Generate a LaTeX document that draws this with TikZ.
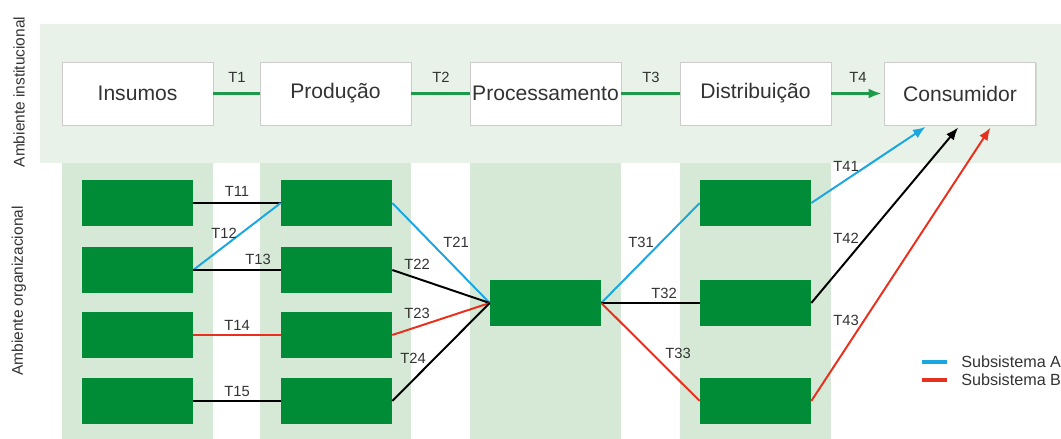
\documentclass[tikz,border=0pt]{standalone}
\usepackage{fontspec}
\setmainfont{Liberation Sans}
\usetikzlibrary{arrows.meta,shadows}
\definecolor{fundo}{HTML}{E8F2E8}
\definecolor{coluna}{HTML}{D6E9D6}
\definecolor{verde}{HTML}{008C36}
\definecolor{linhaverde}{HTML}{1E9B48}
\definecolor{azul}{HTML}{1AA7E1}
\definecolor{vermelho}{HTML}{E8301E}
\definecolor{texto}{HTML}{333333}
\tikzset{
etapa/.style={draw=gray!40,fill=white,minimum width=3.775cm,minimum height=1.575cm,inner sep=0pt,
  text=texto,font=\fontsize{15}{17}\selectfont,drop shadow={opacity=0.2,shadow xshift=0.7pt,shadow yshift=-0.7pt}},
agente/.style={fill=verde,minimum width=2.775cm,minimum height=1.125cm,inner sep=0pt},
rotulo/.style={text=texto,font=\fontsize{10.5}{12}\selectfont,inner sep=0pt},
legenda/.style={text=texto,font=\fontsize{11.5}{13}\selectfont,inner sep=0pt,anchor=west},
lado/.style={text=texto,font=\fontsize{11}{13}\selectfont,rotate=90,inner sep=0pt},
tverde/.style={draw=linhaverde,line width=1.5pt},
tpreto/.style={draw=black,line width=1.4pt},
tazul/.style={draw=azul,line width=1.4pt},
tverm/.style={draw=vermelho,line width=1.4pt},
seta/.style={-{Latex[length=9pt,width=7pt]},shorten >=2pt}
}
\begin{document}
\begin{tikzpicture}[x=0.025cm,y=-0.025cm]
\useasboundingbox (0,0) rectangle (1061,439);
% fundos
\fill[fundo] (40,24) rectangle (1061,163);
\foreach \x in {62,260,470,680} \fill[coluna] (\x,163) rectangle (\x+151,439);
\node[lado] (ainst) at (19,92) {Ambiente institucional};
\node[lado] (aorg) at (19,291) {Ambiente organizacional};
% ambiente institucional
\node[etapa] (ins) at (137.5,93.5) {Insumos};
\node[etapa] (prod) at (335.5,93.5) {Produção};
\node[etapa] (proc) at (545.5,93.5) {Processamento};
\node[etapa] (dist) at (755.5,93.5) {Distribuição};
\node[etapa] (cons) at (960,93.5) {Consumidor};
\draw[tverde] (ins) -- (prod);
\draw[tverde] (prod) -- (proc);
\draw[tverde] (proc) -- (dist);
\draw[tverde,seta] (dist) -- (cons);
\node[rotulo] (t1) at (237,77) {T1};
\node[rotulo] (t2) at (441,77) {T2};
\node[rotulo] (t3) at (651,77) {T3};
\node[rotulo] (t4) at (858,77) {T4};
% ambiente organizacional
\foreach \y [count=\i] in {203,270,335,401}{
  \node[agente] (a\i) at (137.5,\y) {};
  \node[agente] (b\i) at (336.5,\y) {};
}
\node[agente] (c) at (545.5,303) {};
\node[agente] (d1) at (755.5,203) {};
\node[agente] (d2) at (755.5,303) {};
\node[agente] (d3) at (755.5,401) {};
\draw[tpreto] (a1.east) -- (b1.west);
\draw[tazul] (a2.east) -- (b1.west);
\draw[tpreto] (a2.east) -- (b2.west);
\draw[tverm] (a3.east) -- (b3.west);
\draw[tpreto] (a4.east) -- (b4.west);
\draw[tazul] (b1.east) -- (c.west);
\draw[tpreto] (b2.east) -- (c.west);
\draw[tverm] (b3.east) -- (c.west);
\draw[tpreto] (b4.east) -- (c.west);
\draw[tazul] (c.east) -- (d1.west);
\draw[tpreto] (c.east) -- (d2.west);
\draw[tverm] (c.east) -- (d3.west);
\draw[tazul,seta] (d1.east) -- ([xshift=-0.8cm]cons.south);
\draw[tpreto,seta] (d2.east) -- (cons.south);
\draw[tverm,seta] (d3.east) -- ([xshift=0.8cm]cons.south);
\node[rotulo] (t11) at (237,191) {T11};
\node[rotulo] (t12) at (224,233) {T12};
\node[rotulo] (t13) at (258,259) {T13};
\node[rotulo] (t14) at (237,325) {T14};
\node[rotulo] (t15) at (237,391) {T15};
\node[rotulo] (t21) at (456,242) {T21};
\node[rotulo] (t22) at (417,264) {T22};
\node[rotulo] (t23) at (417,313) {T23};
\node[rotulo] (t24) at (413,358) {T24};
\node[rotulo] (t31) at (641,242) {T31};
\node[rotulo] (t32) at (664,293) {T32};
\node[rotulo] (t33) at (678,353) {T33};
\node[rotulo] (t41) at (846,166) {T41};
\node[rotulo] (t42) at (846,238) {T42};
\node[rotulo] (t43) at (846,320) {T43};
% legenda
\draw[azul,line width=2.2pt] (922,362) -- (947,362);
\draw[vermelho,line width=2.2pt] (922,380) -- (947,380);
\node[legenda] (suba) at (961,362) {Subsistema A};
\node[legenda] (subb) at (961,380) {Subsistema B};
\end{tikzpicture}
\end{document}
